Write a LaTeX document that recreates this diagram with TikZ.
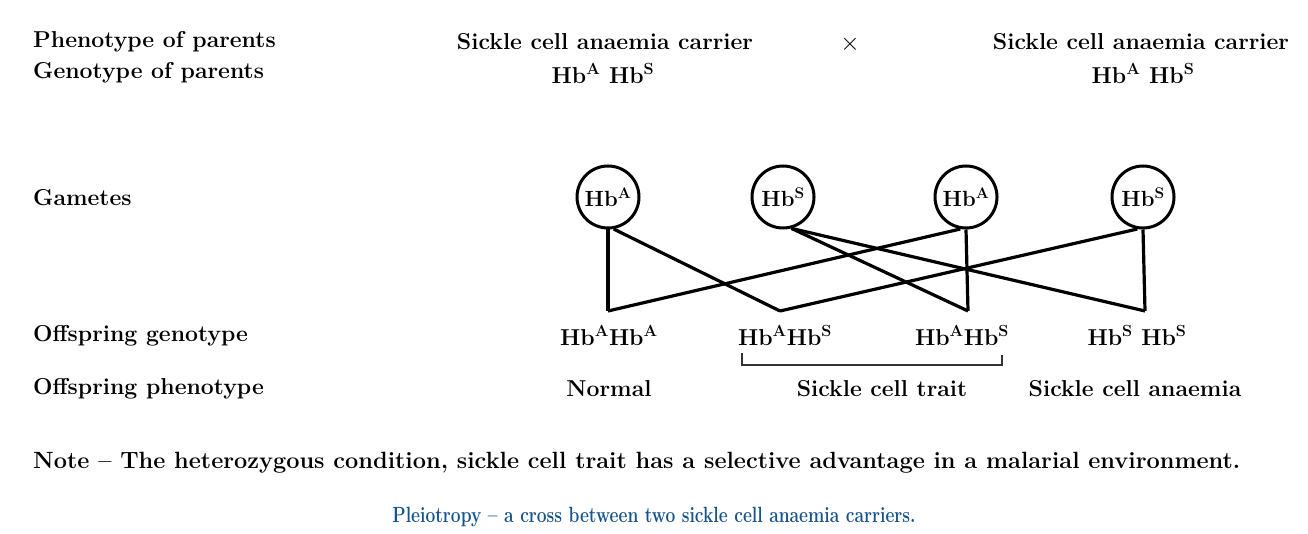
\documentclass[tikz,border=0pt]{standalone}
\usepackage{fontspec}
\definecolor{capblue}{RGB}{22,82,140}
\newcommand{\hbA}{Hb\textsuperscript{A}}
\newcommand{\hbS}{Hb\textsuperscript{S}}
\begin{document}
\begin{tikzpicture}[x=1pt,y=-1pt,
  lbl/.style={anchor=west,inner sep=0pt,font=\bfseries\fontsize{23}{27}\selectfont},
  txt/.style={inner sep=0pt,font=\bfseries\fontsize{23}{27}\selectfont},
  gam/.style={circle,draw,line width=3pt,minimum size=62pt,inner sep=0pt,font=\bfseries\fontsize{22}{26}\selectfont},
  link/.style={line width=3.2pt},
  brk/.style={line width=1.8pt,draw=black!80},
  notetxt/.style={anchor=west,inner sep=0pt,font=\bfseries\fontsize{23.5}{27}\selectfont},
  captxt/.style={inner sep=0pt,text=capblue,font=\bfseries\fontsize{22}{26}\selectfont}]
\useasboundingbox (0,0) rectangle (1308,534);
\fill[white] (0,0) rectangle (1308,534);
% left labels
\node[lbl] (l1) at (33,42) {Phenotype of parents};
\node[lbl] (l2) at (33,73) {Genotype of parents};
\node[lbl] (l3) at (33,198) {Gametes};
\node[lbl] (l4) at (33,336) {Offspring genotype};
\node[lbl] (l5) at (33,389) {Offspring phenotype};
% parents
\node[txt] (p1) at (605,42) {Sickle cell anaemia carrier};
\node[txt] (p2) at (1141,42) {Sickle cell anaemia carrier};
\node[txt] (cross) at (850,44) {$\times$};
\node[txt] (pg1) at (603,73) {\hbA{} \hbS};
\node[txt] (pg2) at (1143,73) {\hbA{} \hbS};
% gametes
\node[gam] (g1) at (608,197) {\hbA};
\node[gam] (g2) at (783,197) {\hbS};
\node[gam] (g3) at (966,197) {\hbA};
\node[gam] (g4) at (1143,197) {\hbS};
% vertices
\coordinate (v1) at (608,311);
\coordinate (v2) at (780,311);
\coordinate (v3) at (968,311);
\coordinate (v4) at (1145,311);
% connectors
\draw[link] (g1.south) -- (v1);
\draw[link] (g1.-80) -- (v2);
\draw[link] (g2.-75) -- (v3);
\draw[link] (g2.-75) -- (v4);
\draw[link] (g3.south) -- (v3);
\draw[link] (g3.-100) -- (v1);
\draw[link] (g4.south) -- (v4);
\draw[link] (g4.-100) -- (v2);
% offspring
\node[txt] (o1) at (609,335) {\hbA\hbA};
\node[txt] (o2) at (785,335) {\hbA\hbS};
\node[txt] (o3) at (962,335) {\hbA\hbS};
\node[txt] (o4) at (1137,335) {\hbS{} \hbS};
\node[txt] (f1) at (609,389) {Normal};
\node[txt] (f2) at (882,389) {Sickle cell trait};
\node[txt] (f3) at (1135,389) {Sickle cell anaemia};
% bracket
\coordinate (b1) at (742,353);
\coordinate (b2) at (1002,355);
\draw[brk] (b1) -- (742,365) -- (1002,365) -- (b2);
% note and caption
\node[notetxt] (nt) at (33,463) {Note -- The heterozygous condition, sickle cell trait has a selective advantage in a malarial environment.};
\node[captxt] (cp) at (654,517) {\scalebox{0.79}[1]{Pleiotropy -- a cross between two sickle cell anaemia carriers.}};
\end{tikzpicture}
\end{document}
